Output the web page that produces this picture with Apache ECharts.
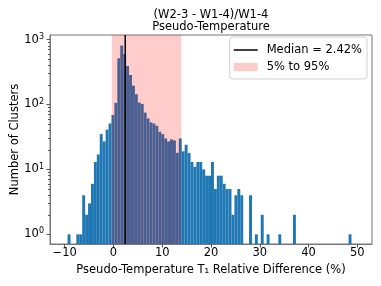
<!DOCTYPE html>
<html><head><meta charset="utf-8">
<script src="https://cdn.jsdelivr.net/npm/echarts@6/dist/echarts.min.js"></script>
<style>html,body{margin:0;padding:0;background:#fff}#c{width:381px;height:286px}</style>
</head><body><div id="c"></div>
<script>
// Histogram bins: left edge, width
const binStart = -10;
const binWidth = 0.6;
// Counts per bin (100 bins from -10 to 50)
const counts = [
  0, 1, 0, 0, 1, 1, 4, 2, 3, 6,
  13, 17, 35, 27, 41, 51, 69, 106, 515, 811,
  600, 392, 285, 195, 144, 107, 102, 75, 61, 53,
  51, 47, 38, 35, 30, 27, 29, 28, 18, 30,
  19, 24, 18, 13, 11, 13, 13, 10, 8, 8,
  13, 5, 8, 8, 6, 5, 5, 2, 4, 5,
  4, 0, 0, 4, 0, 1, 0, 2, 0, 1,
  0, 0, 0, 1, 0, 0, 0, 0, 2, 0,
  0, 0, 0, 0, 0, 0, 0, 0, 0, 0,
  0, 0, 0, 0, 0, 0, 0, 1, 0, 0
];
const medianValue = 2.42;
const percentileRange = [-0.35, 13.9];
const xTicks = [-10, 0, 10, 20, 30, 40, 50];
const yTicks = [1, 10, 100, 1000];
const yMinorTicks = [2,3,4,5,6,7,8,9,20,30,40,50,60,70,80,90,200,300,400,500,600,700,800,900];
const titleText = '(W2-3 - W1-4)/W1-4\nPseudo-Temperature';
const xLabel = 'Pseudo-Temperature T\u2081 Relative Difference (%)';
const yLabel = 'Number of Clusters';
const medianName = 'Median = 2.42%';
const rangeName = '5% to 95%';

const X_MIN = -13, X_MAX = 53, Y_MIN = 0.71, Y_MAX = 1177;
const FONT = 'DejaVu Sans';
const FS = 11.5;

const barData = counts.map((c, i) => [binStart + i * binWidth, binStart + (i + 1) * binWidth, c]).filter(d => d[2] > 0);

const chart = echarts.init(document.getElementById('c'), null, {renderer: 'canvas'});
chart.setOption({
  animation: false,
  backgroundColor: '#fff',
  textStyle: {fontFamily: FONT},
  title: {
    text: titleText,
    left: 211, top: 9, padding: 0, textAlign: 'center',
    textStyle: {fontFamily: FONT, fontSize: FS, fontWeight: 'normal', color: '#000', lineHeight: 12}
  },
  legend: {
    orient: 'vertical', right: 14, top: 37,
    padding: [6, 5, 5, 4],
    itemWidth: 24, itemHeight: 8.4, itemGap: 3,
    backgroundColor: 'rgba(255,255,255,0.8)',
    borderColor: '#d0d0d0', borderWidth: 1, borderRadius: 3,
    textStyle: {fontFamily: FONT, fontSize: FS, color: '#000', lineHeight: 14, padding: [0, 0, 0, 4]},
    data: [
      {name: medianName, icon: 'path://M0 0H24V1.5H0Z'},
      {name: rangeName, icon: 'rect'}
    ]
  },
  grid: {left: 50, right: 9, top: 35, bottom: 42, show: true, borderColor: '#777', borderWidth: 1,
    containLabel: false, outerBoundsMode: 'none'},
  xAxis: {
    type: 'value', min: X_MIN, max: X_MAX,
    name: xLabel, nameLocation: 'middle', nameGap: 10,
    nameTextStyle: {fontFamily: FONT, fontSize: FS, color: '#000'},
    axisLine: {show: true, onZero: false, lineStyle: {color: '#777'}},
    axisTick: {show: true, length: 3.5, lineStyle: {color: '#555'}, customValues: xTicks},
    axisLabel: {fontFamily: FONT, fontSize: FS, color: '#000', margin: 3, customValues: xTicks,
      formatter: v => v < 0 ? '\u2212' + Math.abs(v) : String(v)},
    splitLine: {show: false}
  },
  yAxis: [{
    type: 'log', logBase: 10, min: Y_MIN, max: Y_MAX, position: 'left',
    name: yLabel, nameLocation: 'middle', nameGap: 29, nameMoveOverlap: false,
    nameTextStyle: {fontFamily: FONT, fontSize: FS, color: '#000'},
    axisLine: {show: true, onZero: false, lineStyle: {color: '#777'}},
    axisTick: {show: true, length: 3.5, lineStyle: {color: '#555'}, customValues: yTicks},
    axisLabel: {fontFamily: FONT, fontSize: FS, color: '#000', margin: 6, customValues: yTicks,
      formatter: v => '10{sup|' + Math.round(Math.log10(v)) + '}',
      rich: {sup: {fontFamily: FONT, fontSize: 8, padding: [0, 0, 6, 0], color: '#000'}}},
    splitLine: {show: false}, minorTick: {show: false}
  }, {
    type: 'log', logBase: 10, min: Y_MIN, max: Y_MAX, position: 'left', offset: 0,
    axisLine: {show: false, onZero: false},
    axisTick: {show: true, length: 2, lineStyle: {color: '#555'}, customValues: yMinorTicks},
    axisLabel: {show: false},
    splitLine: {show: false}
  }],
  series: [
    {
      name: 'hist', type: 'custom', z: 2,
      itemStyle: {color: '#1f77b4'},
      encode: {x: [0, 1], y: 2},
      data: barData,
      renderItem: function (params, api) {
        const pTop = api.coord([api.value(0), api.value(2)]);
        const pBot = api.coord([api.value(1), Y_MIN]);
        return {type: 'rect', shape: {x: pTop[0], y: pTop[1], width: pBot[0] - pTop[0], height: pBot[1] - pTop[1]},
          style: {fill: '#1f77b4'}};
      }
    },
    {
      name: rangeName, type: 'custom', z: 3,
      itemStyle: {color: 'rgba(255,0,0,0.2)'},
      encode: {x: [0, 1]},
      data: [percentileRange],
      renderItem: function (params, api) {
        const cs = params.coordSys;
        const a = api.coord([api.value(0), 1])[0];
        const b = api.coord([api.value(1), 1])[0];
        return {type: 'rect', shape: {x: a, y: cs.y, width: b - a, height: cs.height},
          style: {fill: 'rgba(255,0,0,0.2)'}};
      }
    },
    {
      name: medianName, type: 'custom', z: 4,
      itemStyle: {color: '#000'},
      encode: {x: 0},
      data: [[medianValue]],
      renderItem: function (params, api) {
        const cs = params.coordSys;
        const x = api.coord([api.value(0), 1])[0];
        return {type: 'line', shape: {x1: x, y1: cs.y, x2: x, y2: cs.y + cs.height},
          style: {stroke: '#000', lineWidth: 1.5}};
      }
    }
  ]
});
</script>
</body></html>
